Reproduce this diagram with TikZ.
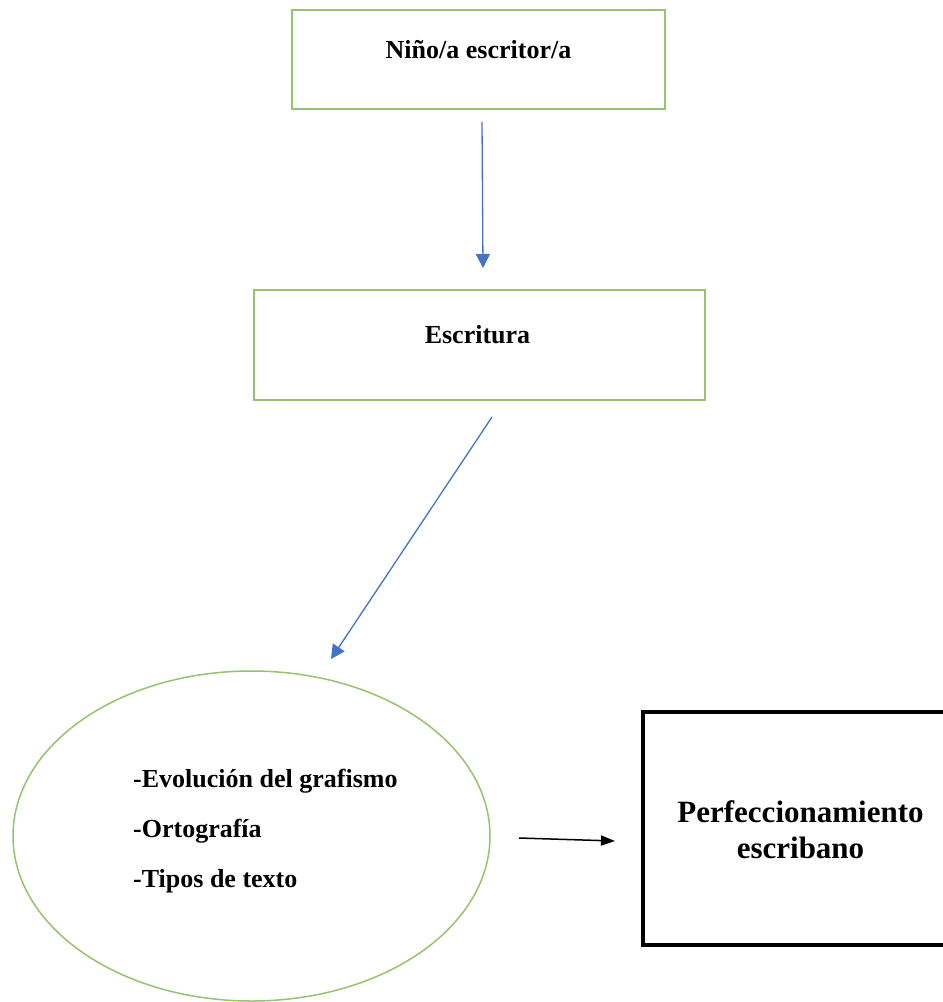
\documentclass[tikz,border=0pt]{standalone}
\usepackage{fontspec}
\setmainfont{Liberation Serif}
\usetikzlibrary{arrows.meta,shapes.geometric}
\definecolor{boxgreen}{RGB}{150,195,110}
\definecolor{arrowblue}{RGB}{68,114,196}
\tikzset{
  greenbox/.style={draw=boxgreen, line width=2pt, rectangle, inner sep=0pt},
  blackbox/.style={draw=black, line width=4.5pt, rectangle, inner sep=0pt},
  greenellipse/.style={draw=boxgreen, line width=1.5pt, ellipse, inner sep=0pt},
  bluearrow/.style={draw=arrowblue, line width=1.3pt, -{Triangle[length=14pt,width=14pt]}},
  blackarrow/.style={draw=black, line width=1.5pt, -{Triangle[length=14pt,width=10pt]}},
  boxtext/.style={font=\fontsize{26}{30}\selectfont\bfseries, inner sep=0pt}
}
\begin{document}
\begin{tikzpicture}[x=1pt,y=-1pt]
\clip (0,0) rectangle (943,1002);
\fill[white] (0,0) rectangle (943,1002);
% boxes
\node[greenbox, minimum width=373pt, minimum height=99pt] (n1) at (478.5,59.5) {};
\node[boxtext] (t1) at (478.5,50) {Niño/a escritor/a};
\node[greenbox, minimum width=451pt, minimum height=110pt] (n2) at (479.5,345) {};
\node[boxtext] (t2) at (477.5,335) {Escritura};
\node[greenellipse, minimum width=477pt, minimum height=330pt] (n3) at (251.5,836) {};
\node[font=\fontsize{26}{50}\selectfont\bfseries, align=left, anchor=west, inner sep=0pt] (t3) at (133,831)
  {-Evolución del grafismo\\-Ortografía\\-Tipos de texto};
\node[blackbox, minimum width=310pt, minimum height=233pt] (n4) at (798,828.5) {};
\node[font=\fontsize{31}{36}\selectfont\bfseries, align=center, inner sep=0pt] (t4) at (800.5,830)
  {Perfeccionamiento\\escribano};
% connector end points
\coordinate (a1s) at (482,122);
\coordinate (a1e) at (483,268);
\coordinate (a2s) at (492,417);
\coordinate (a2e) at (331,659);
\coordinate (a3s) at (519,838);
\coordinate (a3e) at (615,841);
\draw[bluearrow] (a1s) -- (a1e);
\draw[bluearrow] (a2s) -- (a2e);
\draw[blackarrow] (a3s) -- (a3e);
\end{tikzpicture}
\end{document}
